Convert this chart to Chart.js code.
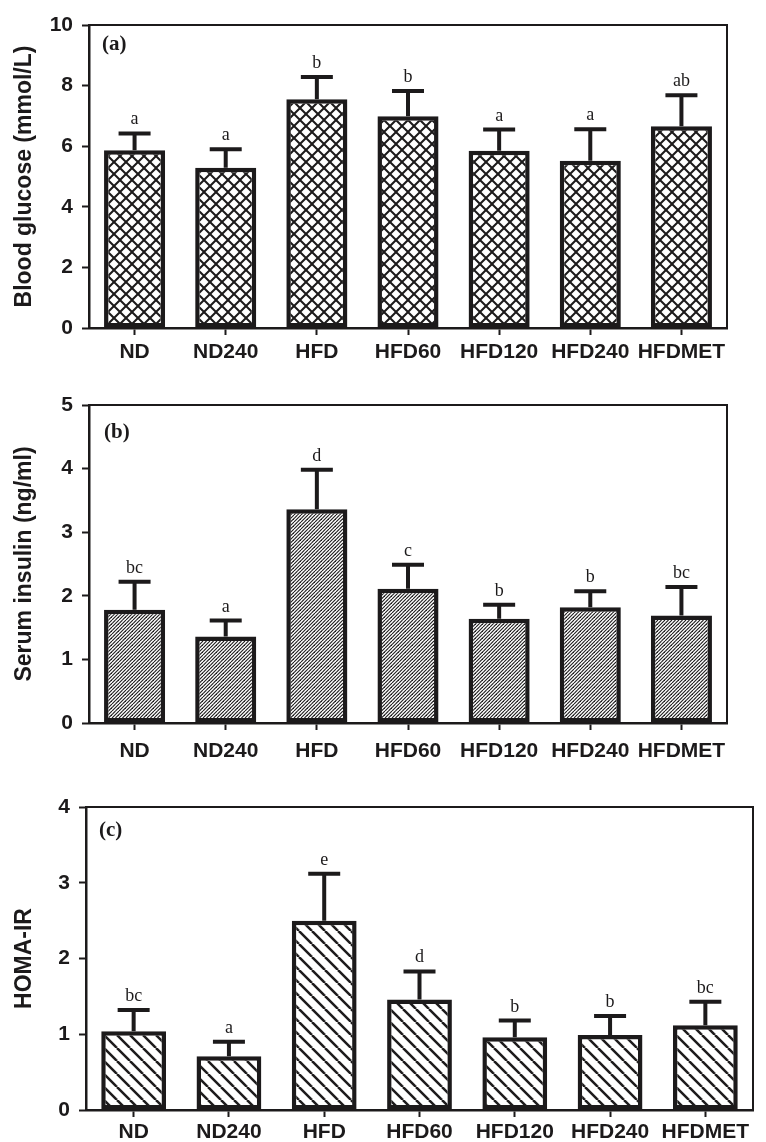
<!DOCTYPE html>
<html lang="en">
<head>
  <meta charset="UTF-8">
  <title>Blood glucose, serum insulin and HOMA-IR</title>
  <script src="https://cdn.jsdelivr.net/npm/chart.js"></script>
  <style>
    body { margin: 0; background: #fff; }
    .panel { position: absolute; left: 0; }
  </style>
</head>
<body>
  <div class="panel" style="top:0"><canvas id="glucoseChart" width="766" height="375"></canvas></div>
  <div class="panel" style="top:375px"><canvas id="insulinChart" width="766" height="400"></canvas></div>
  <div class="panel" style="top:775px"><canvas id="homaChart" width="766" height="367"></canvas></div>

  <script>
    const groups = ['ND', 'ND240', 'HFD', 'HFD60', 'HFD120', 'HFD240', 'HFDMET'];

    const glucoseMean = [5.87, 5.29, 7.55, 6.99, 5.85, 5.52, 6.66];
    const glucoseSD   = [0.55, 0.61, 0.73, 0.83, 0.70, 1.04, 1.02];
    const glucoseSig  = ['a', 'a', 'b', 'b', 'a', 'a', 'ab'];
    const glucoseTicks = [0, 2, 4, 6, 8, 10];

    const insulinMean = [1.78, 1.36, 3.36, 2.11, 1.64, 1.82, 1.69];
    const insulinSD   = [0.44, 0.25, 0.62, 0.38, 0.22, 0.25, 0.45];
    const insulinSig  = ['bc', 'a', 'd', 'c', 'b', 'b', 'bc'];
    const insulinTicks = [0, 1, 2, 3, 4, 5];

    const homaMean = [1.04, 0.71, 2.50, 1.46, 0.96, 0.99, 1.12];
    const homaSD   = [0.28, 0.19, 0.62, 0.37, 0.22, 0.25, 0.31];
    const homaSig  = ['bc', 'a', 'e', 'd', 'b', 'b', 'bc'];
    const homaTicks = [0, 1, 2, 3, 4];

    const INK = '#1c1a1b';
    const SANS = '"Liberation Sans", Arial, sans-serif';
    const SERIF = '"Liberation Serif", "Times New Roman", serif';

    // category labels in the original are a condensed bold face; use the
    // narrow Liberation cut if it is installed, else plain Liberation Sans
    const probe = document.createElement('canvas').getContext('2d');
    probe.font = 'bold 40px "Liberation Sans Narrow", "Liberation Sans"';
    const wNarrow = probe.measureText('HFDMET').width;
    probe.font = 'bold 40px "Liberation Sans"';
    const wPlain = probe.measureText('HFDMET').width;
    const hasNarrow = wNarrow < wPlain * 0.93;
    const XFONT = hasNarrow
      ? { family: '"Liberation Sans Narrow", "Liberation Sans", sans-serif', size: 23, weight: 'bold' }
      : { family: SANS, size: 21, weight: 'bold' };

    // hatch tiles: '/' forward, '\' back, both = crosshatch
    function hatch(size, lw, dirs, step) {
      const c = document.createElement('canvas');
      c.width = c.height = size;
      const g = c.getContext('2d');
      g.fillStyle = '#fff';
      g.fillRect(0, 0, size, size);
      g.strokeStyle = INK;
      g.lineWidth = lw;
      step = step || 1;
      for (let k = -1; k <= 1; k += step) {
        const o = k * size;
        if (dirs.includes('/')) {
          g.beginPath(); g.moveTo(o, size); g.lineTo(o + size, 0); g.stroke();
        }
        if (dirs.includes('\\')) {
          g.beginPath(); g.moveTo(o, 0); g.lineTo(o + size, size); g.stroke();
        }
      }
      return g.createPattern(c, 'repeat');
    }

    function overlay(means, sds, sig, tag, tagDx, tagDy) {
      return {
        id: 'overlay',
        afterDatasetsDraw(chart) {
          const { ctx, chartArea: a, scales: { x, y } } = chart;
          ctx.save();
          ctx.strokeStyle = INK;
          ctx.fillStyle = INK;

          // top and right frame
          ctx.lineWidth = 2;
          ctx.beginPath();
          ctx.moveTo(a.left, a.top);
          ctx.lineTo(a.right, a.top);
          ctx.lineTo(a.right, a.bottom);
          ctx.stroke();

          // error bars + significance letters
          ctx.font = '18px ' + SERIF;
          ctx.textAlign = 'center';
          ctx.textBaseline = 'alphabetic';
          means.forEach((m, i) => {
            const cx = x.getPixelForValue(i);
            const y0 = y.getPixelForValue(m);
            const y1 = y.getPixelForValue(m + sds[i]);
            ctx.lineWidth = 4;
            ctx.beginPath();
            ctx.moveTo(cx, y0);
            ctx.lineTo(cx, y1);
            ctx.moveTo(cx - 16, y1);
            ctx.lineTo(cx + 16, y1);
            ctx.stroke();
            ctx.fillText(sig[i], cx, y1 - 9);
          });

          // panel tag
          ctx.font = 'bold 21px ' + SERIF;
          ctx.textAlign = 'left';
          ctx.textBaseline = 'middle';
          ctx.fillText(tag, a.left + tagDx, a.top + tagDy);
          ctx.restore();
        }
      };
    }

    function makePanel(id, o) {
      new Chart(document.getElementById(id), {
        type: 'bar',
        data: {
          labels: groups,
          datasets: [{
            data: o.means,
            backgroundColor: o.fill,
            borderColor: INK,
            borderWidth: 4.5,
            borderSkipped: false,
            categoryPercentage: 1,
            barPercentage: o.barPct
          }]
        },
        options: {
          responsive: false,
          animation: false,
          layout: { padding: { left: 0, right: o.padRight, top: o.padTop, bottom: 0 } },
          plugins: { legend: { display: false }, tooltip: { enabled: false } },
          scales: {
            x: {
              grid: { offset: false, drawOnChartArea: false, drawTicks: true, tickLength: 7, tickWidth: 2, tickColor: INK },
              border: { color: INK, width: 2.5 },
              ticks: {
                color: INK, padding: o.xPad, autoSkip: false, maxRotation: 0,
                font: XFONT
              },
              afterFit(s) { s.height = o.xHeight; }
            },
            y: {
              min: o.ticks[0],
              max: o.ticks[o.ticks.length - 1],
              afterBuildTicks(s) { s.ticks = o.ticks.map(v => ({ value: v })); },
              grid: { drawOnChartArea: false, drawTicks: true, tickLength: 7, tickWidth: 2, tickColor: INK },
              border: { color: INK, width: 2.5 },
              ticks: {
                color: INK, padding: 9,
                font: { family: SANS, size: 21, weight: 'bold' }
              },
              title: {
                display: true, text: o.title, color: INK,
                font: { family: SANS, size: 23, weight: 'bold' },
                padding: { top: 11, bottom: 0 }
              },
              afterFit(s) { s.width = o.yWidth; }
            }
          }
        },
        plugins: [overlay(o.means, o.sds, o.sig, o.tag, o.tagDx, o.tagDy)]
      });
    }

    makePanel('glucoseChart', {
      means: glucoseMean, sds: glucoseSD, sig: glucoseSig, ticks: glucoseTicks,
      title: 'Blood glucose (mmol/L)', tag: '(a)', tagDx: 13, tagDy: 20,
      fill: hatch(12, 2, '/\\'), barPct: 0.67,
      padTop: 25, padRight: 39, yWidth: 89, xHeight: 47, xPad: 5
    });

    makePanel('insulinChart', {
      means: insulinMean, sds: insulinSD, sig: insulinSig, ticks: insulinTicks,
      title: 'Serum insulin (ng/ml)', tag: '(b)', tagDx: 15, tagDy: 28,
      fill: hatch(7, 1.1, '/', 0.5), barPct: 0.67,
      padTop: 30, padRight: 39, yWidth: 89, xHeight: 52, xPad: 9
    });

    makePanel('homaChart', {
      means: homaMean, sds: homaSD, sig: homaSig, ticks: homaTicks,
      title: 'HOMA-IR', tag: '(c)', tagDx: 13, tagDy: 24,
      fill: hatch(13, 2.5, '\\'), barPct: 0.68,
      padTop: 32, padRight: 13, yWidth: 86, xHeight: 32, xPad: 3
    });
  </script>
</body>
</html>
